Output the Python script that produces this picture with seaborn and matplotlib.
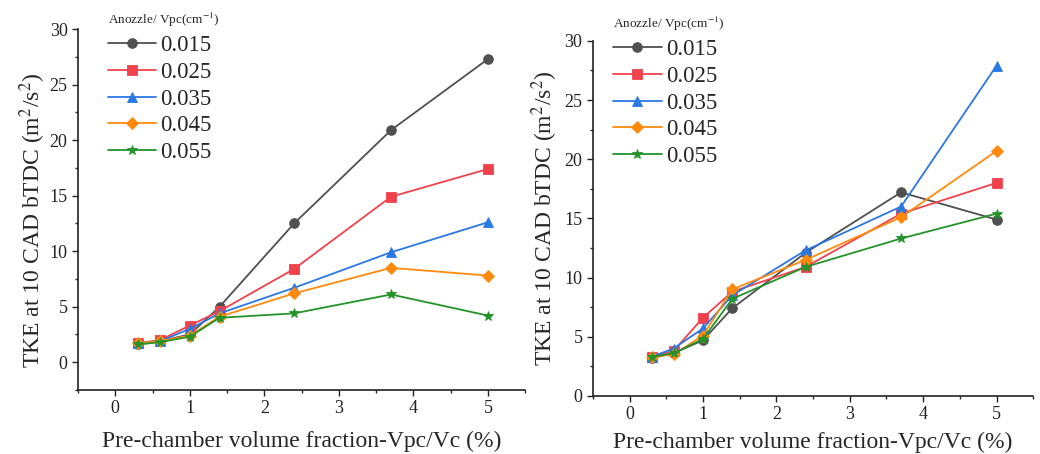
import numpy as np
import pandas as pd
import seaborn as sns
import matplotlib.pyplot as plt
from matplotlib.ticker import MultipleLocator

# pre-chamber volume fraction (%)
vfrac = [0.3, 0.6, 1.0, 1.4, 2.4, 3.7, 5.0]
ratios = ['0.015', '0.025', '0.035', '0.045', '0.055']

# left panel
left_015 = [1.6, 1.9, 2.5, 5.0, 12.5, 20.9, 27.3]
left_025 = [1.7, 2.0, 3.3, 4.6, 8.4, 14.9, 17.4]
left_035 = [1.7, 1.9, 3.0, 4.4, 6.7, 9.9, 12.6]
left_045 = [1.7, 1.9, 2.4, 4.1, 6.2, 8.5, 7.8]
left_055 = [1.6, 1.8, 2.3, 4.0, 4.4, 6.1, 4.2]

# right panel
right_015 = [3.2, 3.6, 4.7, 7.4, 12.1, 17.2, 14.9]
right_025 = [3.3, 3.8, 6.6, 8.8, 10.9, 15.4, 18.0]
right_035 = [3.3, 4.0, 5.7, 8.5, 12.3, 16.0, 27.9]
right_045 = [3.3, 3.5, 5.1, 9.0, 11.5, 15.1, 20.7]
right_055 = [3.3, 3.6, 4.8, 8.2, 10.9, 13.3, 15.4]

colors = {'0.015': '#505050', '0.025': '#f0424c', '0.035': '#2a78e4',
          '0.045': '#ff8a0d', '0.055': '#23932a'}
marks = {'0.015': 'o', '0.025': 's', '0.035': '^', '0.045': 'D', '0.055': '*'}
msize = {'0.015': 7, '0.025': 6.5, '0.035': 7, '0.045': 6.5, '0.055': 7}


def to_long(series):
    rows = []
    for r, vals in zip(ratios, series):
        for x, y in zip(vfrac, vals):
            rows.append({'x': x, 'tke': y, 'ratio': r})
    return pd.DataFrame(rows)


sns.set_theme(style='ticks')
plt.rcParams['font.family'] = ['Liberation Serif', 'DejaVu Serif']
plt.rcParams['mathtext.fontset'] = 'stix'

fig = plt.figure(figsize=(10.4, 4.54), dpi=100)
ax1 = fig.add_axes([0.075, 0.141, 0.430, 0.795])
ax2 = fig.add_axes([0.570, 0.128, 0.4235, 0.782])

panels = [(ax1, [left_015, left_025, left_035, left_045, left_055], (-2.5, 30), (0.046, 1.075), 30, 10),
          (ax2, [right_015, right_025, right_035, right_045, right_055], (0, 30), (0.026, 1.098), 33, 6)]

for ax, series, ylim, anchor, ylx, xpad in panels:
    df = to_long(series)
    for r in ratios:
        d = df[df['ratio'] == r]
        sns.lineplot(data=d, x='x', y='tke', ax=ax, color=colors[r], marker=marks[r],
                     markersize=msize[r], markeredgewidth=0.6, markeredgecolor=colors[r],
                     linewidth=1.3, label=r, legend=True)
    ax.set_xlim(-0.5, 5.5)
    ax.set_ylim(*ylim)
    ax.set_xticks(range(0, 6))
    ax.set_yticks(range(0, 31, 5))
    ax.xaxis.set_minor_locator(MultipleLocator(0.5))
    ax.yaxis.set_minor_locator(MultipleLocator(2.5))
    ax.tick_params(which='major', direction='out', length=4, width=1, labelsize=13, colors='#222222')
    ax.tick_params(which='minor', direction='out', length=2.5, width=1)
    sns.despine(ax=ax)
    for s in ['left', 'bottom']:
        ax.spines[s].set_linewidth(1.2)
        ax.spines[s].set_color('#222222')
    ax.spines['left'].set_bounds(ylim[0], 30)
    ax.set_xlabel('Pre-chamber volume fraction-Vpc/Vc (%)', fontsize=17, labelpad=xpad)
    ax.set_ylabel('TKE at 10 CAD bTDC (m$^2$/s$^2$)', fontsize=17)
    ax.yaxis.set_label_coords(-ylx / 447, 0.5 if ylim[0] == 0 else 0.47)
    leg = ax.legend(title='Anozzle/ Vpc(cm$^{-1}$)', frameon=False, fontsize=16.5,
                    title_fontsize=9.5, loc='upper left', bbox_to_anchor=anchor,
                    handlelength=2.1, handletextpad=0.2, labelspacing=0.25,
                    borderaxespad=0)
    leg._legend_box.align = 'left'

fig.savefig('out.png', dpi=100)
